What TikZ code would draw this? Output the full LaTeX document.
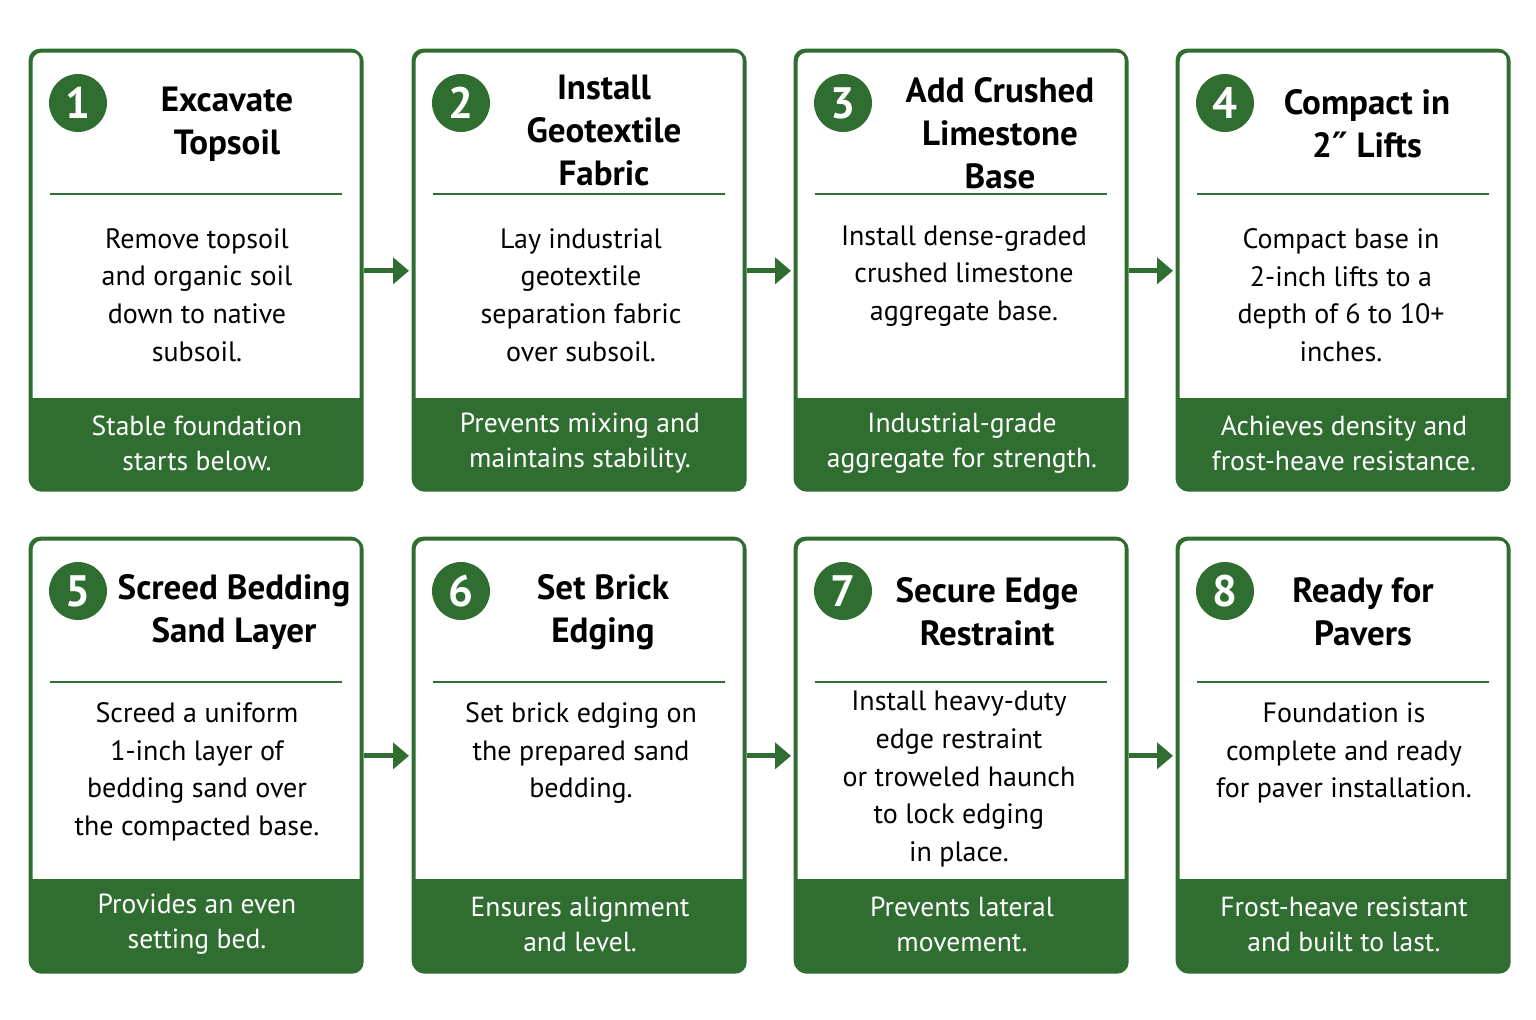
\documentclass[tikz,border=0pt]{standalone}
\usepackage{fontspec}
\setmainfont{PT Sans}
\newfontfamily\dv{DejaVu Sans}
\usetikzlibrary{arrows.meta}
\definecolor{g}{HTML}{2F6E30}
\begin{document}
\begin{tikzpicture}[x=0.5pt,y=-0.5pt,
 card/.style={draw=g,line width=1.3pt,rounded corners=5pt,fill=white,inner sep=0},
 num/.style={circle,fill=g,text=white,minimum size=29pt,inner sep=0,font=\fontsize{22}{22}\selectfont\bfseries},
 ttl/.style={align=center,font=\fontsize{17.5}{21.5}\selectfont\bfseries},
 body/.style={align=center,font=\fontsize{14}{18.8}\selectfont},
 foot/.style={align=center,text=white,font=\fontsize{13.8}{17.5}\selectfont},
 arr/.style={g,line width=2.6pt,-{Triangle[length=8pt,width=13pt]},shorten <=0pt,shorten >=2pt}]
\useasboundingbox (0,0) rectangle (1536,1019);
\fill[white] (0,0) rectangle (1536,1019);
\newcommand{\mycard}[9]{% id, left, top, bottom, footertop, num, title, body, footer
 \node[card,minimum width=165.5pt,minimum height={(#4-#3)*0.5pt},anchor=north west] (c#1) at (#2,#3) {};
 \fill[g,rounded corners=5pt] (#2,#5) rectangle (#2+331,#4);
 \fill[g] (#2,#5) rectangle (#2+331,#5+12);
 \draw[g,line width=1.3pt,rounded corners=5pt] (#2,#3) rectangle (#2+331,#4);
 \node[num] (n#1) at (#2+48,#3+53) {#6};
 \draw[g,line width=1pt] (#2+20,#3+144) -- (#2+312,#3+144);
 \node[foot] (f#1) at (#2+167,#5+45) {#9};
}
\mycard{1}{30}{50}{489}{398}{1}{}{}{Stable foundation\\starts below.}
\mycard{2}{413}{50}{489}{398}{2}{}{}{Prevents mixing and\\maintains stability.}
\mycard{3}{795}{50}{489}{398}{3}{}{}{Industrial-grade\\aggregate for strength.}
\mycard{4}{1177}{50}{489}{398}{4}{}{}{Achieves density and\\frost-heave resistance.}
\mycard{5}{30}{538}{971}{879}{5}{}{}{Provides an even\\setting bed.}
\mycard{6}{413}{538}{971}{879}{6}{}{}{Ensures alignment\\and level.}
\mycard{7}{795}{538}{971}{879}{7}{}{}{Prevents lateral\\movement.}
\mycard{8}{1177}{538}{971}{879}{8}{}{}{Frost-heave resistant\\and built to last.}
\node[ttl] (t1) at (227,124) {Excavate\\Topsoil};
\node[ttl] (t2) at (604,130) {Install\\Geotextile\\Fabric};
\node[ttl] (t3) at (1000,133) {Add Crushed\\Limestone\\Base};
\node[ttl] (t4) at (1367,124) {Compact in\\2{\dv\char"2033} Lifts};
\node[ttl] (t5) at (234,612) {Screed Bedding\\Sand Layer};
\node[ttl] (t6) at (603,612) {Set Brick\\Edging};
\node[ttl] (t7) at (987,612) {Secure Edge\\Restraint};
\node[ttl] (t8) at (1363,612) {Ready for\\Pavers};
\node[body] (b1) at (197,295) {Remove topsoil\\and organic soil\\down to native\\subsoil.};
\node[body] (b2) at (581,295) {Lay industrial\\geotextile\\separation fabric\\over subsoil.};
\node[body] (b3) at (964,276) {Install dense-graded\\crushed limestone\\aggregate base.};
\node[body] (b4) at (1341,295) {Compact base in\\2-inch lifts to a\\depth of 6 to 10+\\inches.};
\node[body] (b5) at (197,772) {Screed a uniform\\1-inch layer of\\bedding sand over\\the compacted base.};
\node[body] (b6) at (581,753) {Set brick edging on\\the prepared sand\\bedding.};
\node[body] (b7) at (959,779) {Install heavy-duty\\edge restraint\\or troweled haunch\\to lock edging\\in place.};
\node[body] (b8) at (1344,753) {Foundation is\\complete and ready\\for paver installation.};
\foreach \a/\b in {1/2,2/3,3/4,5/6,6/7,7/8}{\draw[arr] (c\a.east) -- (c\b.west);}
\end{tikzpicture}
\end{document}
